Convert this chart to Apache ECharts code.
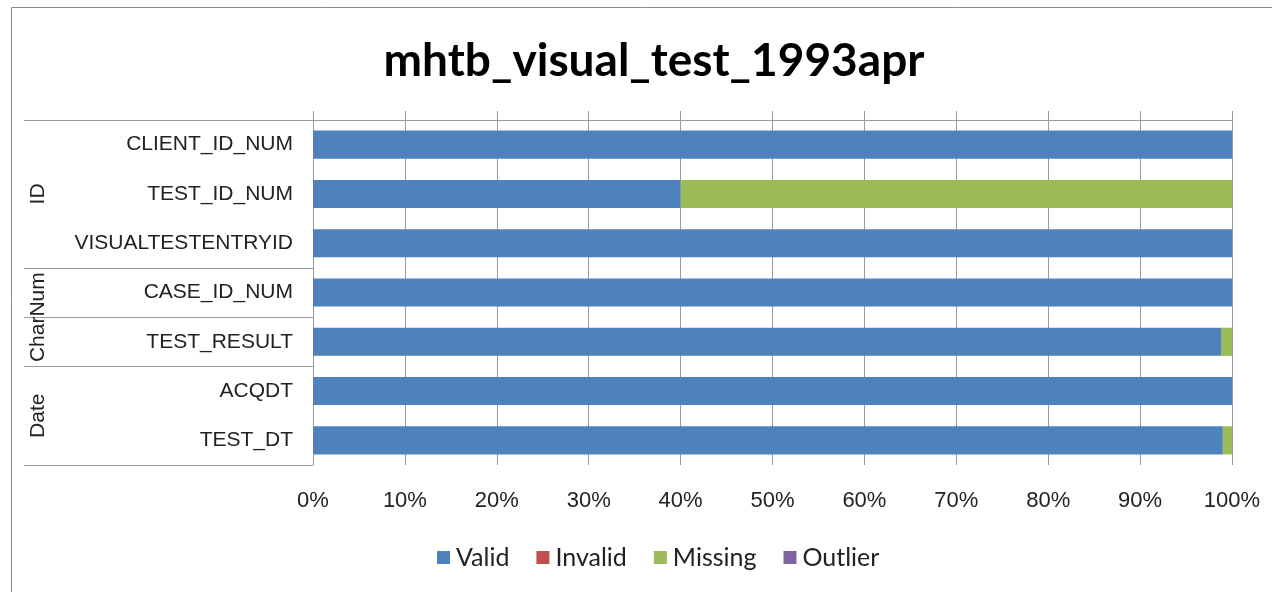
<!DOCTYPE html>
<html>
<head>
<meta charset="utf-8">
<script src="https://cdn.jsdelivr.net/npm/echarts@6/dist/echarts.min.js"></script>
<style>
html,body{margin:0;padding:0;background:#fff;}
#chart{width:1272px;height:592px;}
</style>
</head>
<body>
<div id="chart"></div>
<script>
const titleText = 'mhtb_visual_test_1993apr';
const categories = ['CLIENT_ID_NUM','TEST_ID_NUM','VISUALTESTENTRYID','CASE_ID_NUM','TEST_RESULT','ACQDT','TEST_DT'];
const groupNames = ['ID','CharNum','Date'];
const groupStart = [0,3,5];
const groupEnd = [2,4,6];
const dividers = [3,4,5];
const seriesNames = ['Valid','Invalid','Missing','Outlier'];
const validVals = [100,40,100,100,98.8,100,99.0];
const invalidVals = [0,0,0,0,0,0,0];
const missingVals = [0,60,0,0,1.2,0,1.0];
const outlierVals = [0,0,0,0,0,0,0];
const xTicks = [0,10,20,30,40,50,60,70,80,90,100];
const colors = ['#4F81BD','#C0504D','#9BBB59','#8064A2'];

const chart = echarts.init(document.getElementById('chart'));
const gridCol = '#9a9a9a';
const vals = [validVals, invalidVals, missingVals, outlierVals];
const option = {
  animation:false,
  color: colors,
  title:{text:titleText,left:649,top:33,textAlign:'center',
    textStyle:{fontFamily:'Lato',fontWeight:'bold',fontSize:46,color:'#000'}},
  legend:{top:540,left:432,itemWidth:13,itemHeight:13,itemGap:27,icon:'rect',
    textStyle:{fontFamily:'Lato',fontSize:25,color:'#222',padding:[0,0,0,1]},
    data:seriesNames},
  grid:{left:313,right:40,top:120,bottom:127},
  xAxis:[{type:'value',min:xTicks[0],max:xTicks[xTicks.length-1],interval:10,position:'bottom',
    axisLine:{show:false},axisTick:{show:false},
    axisLabel:{formatter:'{value}%',fontFamily:'Liberation Sans',fontSize:22,color:'#222',margin:25},
    splitLine:{show:true,lineStyle:{color:gridCol,width:1}}},
   {type:'value',min:0,max:100,interval:10,position:'top',
    axisLine:{show:true,lineStyle:{color:gridCol,width:1}},
    axisTick:{show:true,length:9,lineStyle:{color:gridCol}},
    axisLabel:{show:false},splitLine:{show:false}}],
  yAxis:{type:'category',data:categories,inverse:true,
    axisLine:{show:true,lineStyle:{color:gridCol}},axisTick:{show:false},
    axisLabel:{fontFamily:'Liberation Sans',fontSize:21,color:'#222',margin:20}},
  series: seriesNames.map((n,i)=>({name:n,type:'bar',stack:'s',data:vals[i],
    barWidth:'57%',xAxisIndex:0,itemStyle:{color:colors[i]}}))
};
chart.setOption(option);

// group decorations from axis scale
function yEdge(idx){ // top edge of band idx
  const c0 = chart.convertToPixel({yAxisIndex:0}, categories[0]);
  const c1 = chart.convertToPixel({yAxisIndex:0}, categories[1]);
  const band = c1 - c0;
  return c0 - band/2 + idx*band;
}
const xAxisPx = chart.convertToPixel({xAxisIndex:0}, 0);
const leftX = 24;
const g = [];
const lineStyle = {stroke:gridCol,lineWidth:1};
const edges = [0].concat(dividers).concat([categories.length]);
edges.forEach(e=>{
  const y = Math.round(yEdge(e))+0.5;
  g.push({type:'line',shape:{x1:leftX,y1:y,x2:xAxisPx,y2:y},style:lineStyle,silent:true});
});
groupNames.forEach((n,i)=>{
  const yc = (yEdge(groupStart[i]) + yEdge(groupEnd[i]+1))/2;
  g.push({type:'text',x:38,y:yc,rotation:Math.PI/2,
    style:{text:n,fontFamily:'Liberation Sans',fontSize:21,fill:'#222',align:'center',verticalAlign:'middle'}});
});
g.push({type:'rect',shape:{x:11.5,y:7.5,width:1400,height:700},style:{fill:null,stroke:'#8a8a8a',lineWidth:1},silent:true});
chart.setOption({graphic:g});
</script>
</body>
</html>
